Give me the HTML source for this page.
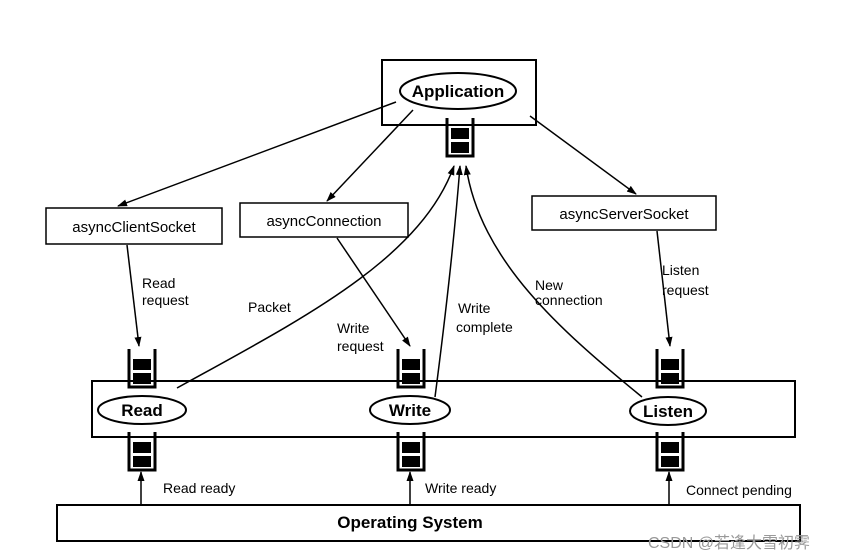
<!DOCTYPE html>
<html><head><meta charset="utf-8"><style>
body{margin:0;background:#fff}
svg{display:block}
text{font-family:"Liberation Sans",Arial,sans-serif;fill:#000}
</style></head><body>
<svg width="855" height="558" viewBox="0 0 855 558" xmlns="http://www.w3.org/2000/svg">
<defs>
<marker id="a" markerWidth="10" markerHeight="10" refX="9" refY="5" orient="auto" markerUnits="userSpaceOnUse">
<path d="M0,1.5 L10,5 L0,8.5 Z" fill="#000"/></marker>
<g id="q">
<path d="M0,0 V38 H26 V0" fill="none" stroke="#000" stroke-width="3"/>
<rect x="4" y="10" width="18" height="11" fill="#000"/>
<rect x="4" y="24" width="18" height="11" fill="#000"/>
</g>
</defs>
<g stroke="#000" fill="none" stroke-width="2">
<rect x="382" y="60" width="154" height="65"/>
<rect x="92" y="381" width="703" height="56"/>
<rect x="57" y="505" width="743" height="36"/>
<rect x="46" y="208" width="176" height="36" stroke-width="1.5"/>
<rect x="240" y="203" width="168" height="34" stroke-width="1.5"/>
<rect x="532" y="196" width="184" height="34" stroke-width="1.5"/>
<ellipse cx="458" cy="91" rx="58" ry="18"/>
<ellipse cx="142" cy="410" rx="44" ry="14"/>
<ellipse cx="410" cy="410" rx="40" ry="14"/>
<ellipse cx="668" cy="411" rx="38" ry="14"/>
</g>
<use href="#q" x="447" y="118"/>
<use href="#q" x="129" y="349"/>
<use href="#q" x="398" y="349"/>
<use href="#q" x="657" y="349"/>
<use href="#q" x="129" y="432"/>
<use href="#q" x="398" y="432"/>
<use href="#q" x="657" y="432"/>
<g stroke="#000" fill="none" stroke-width="1.5" marker-end="url(#a)">
<line x1="396" y1="102" x2="118" y2="206"/>
<line x1="413" y1="110" x2="327" y2="201"/>
<line x1="530" y1="116" x2="636" y2="194"/>
<line x1="127" y1="245" x2="139" y2="346"/>
<line x1="337" y1="238" x2="410" y2="346"/>
<line x1="657" y1="231" x2="670" y2="346"/>
<path d="M177,388 C300,320 420,260 454,166"/>
<path d="M435,397 C445,320 455,230 460,166"/>
<path d="M642,397 C560,330 480,260 466,166"/>
<line x1="141" y1="505" x2="141" y2="472"/>
<line x1="410" y1="505" x2="410" y2="472"/>
<line x1="669" y1="505" x2="669" y2="472"/>
</g>
<g font-size="17" font-weight="bold" text-anchor="middle">
<text x="458" y="97">Application</text>
<text x="142" y="416">Read</text>
<text x="410" y="416">Write</text>
<text x="668" y="417">Listen</text>
<text x="410" y="528">Operating System</text>
</g>
<g font-size="15" text-anchor="middle">
<text x="134" y="232">asyncClientSocket</text>
<text x="324" y="226">asyncConnection</text>
<text x="624" y="219">asyncServerSocket</text>
</g>
<g font-size="14">
<text x="142" y="288">Read</text>
<text x="142" y="305">request</text>
<text x="248" y="312">Packet</text>
<text x="337" y="333">Write</text>
<text x="337" y="351">request</text>
<text x="458" y="313">Write</text>
<text x="456" y="332">complete</text>
<text x="535" y="290">New</text>
<text x="535" y="305">connection</text>
<text x="662" y="275">Listen</text>
<text x="662" y="295">request</text>
<text x="163" y="493">Read ready</text>
<text x="425" y="493">Write ready</text>
<text x="686" y="495">Connect pending</text>
</g>
<text x="648" y="548" font-size="16" style="fill:#999;font-family:'Liberation Sans','Noto Sans CJK SC',sans-serif">CSDN @若逢大雪初霁</text>
</svg>
</body></html>
